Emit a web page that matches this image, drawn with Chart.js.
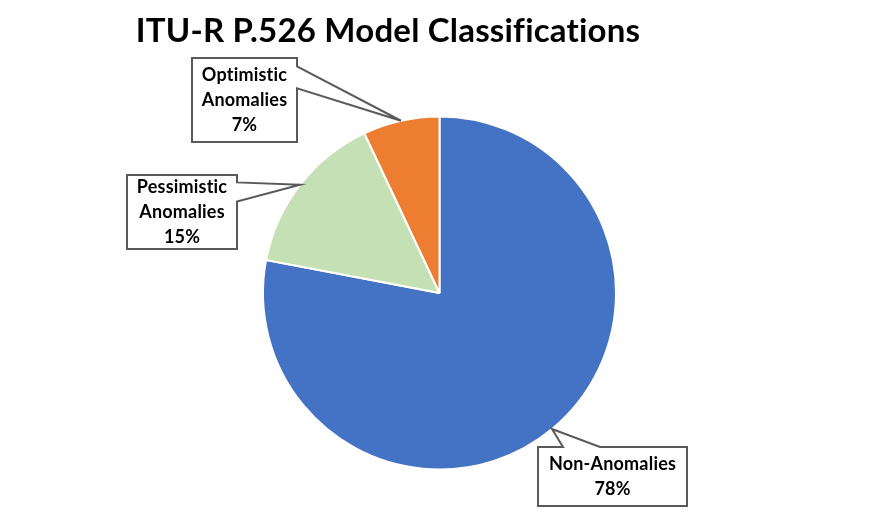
<!DOCTYPE html>
<html lang="en">
<head>
<meta charset="UTF-8">
<title>ITU-R P.526 Model Classifications</title>
<script src="https://cdn.jsdelivr.net/npm/chart.js"></script>
<style>
    body { margin: 0; background: #ffffff; }
    canvas { display: block; }
</style>
</head>
<body>
<canvas id="pieChart" width="883" height="525"></canvas>
<script>
const categories = ['Non-Anomalies', 'Pessimistic Anomalies', 'Optimistic Anomalies'];
const shares = [78, 15, 7];
const sliceColors = ['#4472C4', '#C5E0B4', '#ED7D31'];

// callout boxes (x, y, w, h) and which side the pointer leaves from
const callouts = [
    { box: [538, 447, 149, 59], side: 'top', lines: ['Non-Anomalies'] },
    { box: [127, 175, 110, 74], side: 'right', lines: ['Pessimistic', 'Anomalies'] },
    { box: [192, 58, 105, 84], side: 'right', lines: ['Optimistic', 'Anomalies'] }
];

const FONT = 'Lato, "Open Sans", sans-serif';

const calloutPlugin = {
    id: 'callouts',
    afterDraw(chart) {
        const ctx = chart.ctx;
        const arcs = chart.getDatasetMeta(0).data;
        ctx.save();
        // no "ti" ligatures, Calibri-like look
        ctx.letterSpacing = '0.2px';

        // title
        ctx.fillStyle = '#000';
        ctx.font = 'bold 33px ' + FONT;
        ctx.textAlign = 'center';
        ctx.textBaseline = 'alphabetic';
        ctx.fillText('ITU-R P.526 Model Classifications', 388, 42);

        arcs.forEach((arc, i) => {
            const c = callouts[i];
            const mid = (arc.startAngle + arc.endAngle) / 2;
            const tx = arc.x + Math.cos(mid) * arc.outerRadius;
            const ty = arc.y + Math.sin(mid) * arc.outerRadius;
            const [x, y, w, h] = c.box;

            ctx.beginPath();
            ctx.moveTo(x, y);
            if (c.side === 'top') {
                ctx.lineTo(x + 25, y);
                ctx.lineTo(tx, ty);
                ctx.lineTo(x + 62, y);
                ctx.lineTo(x + w, y);
                ctx.lineTo(x + w, y + h);
            } else {
                ctx.lineTo(x + w, y);
                ctx.lineTo(x + w, y + h * 0.1);
                ctx.lineTo(tx, ty);
                ctx.lineTo(x + w, y + h * 0.36);
                ctx.lineTo(x + w, y + h);
            }
            ctx.lineTo(x, y + h);
            ctx.closePath();
            ctx.fillStyle = '#ffffff';
            ctx.fill();
            ctx.strokeStyle = '#595959';
            ctx.lineWidth = 2;
            ctx.stroke();

            const lines = c.lines.concat([shares[i] + '%']);
            const lh = 25;
            const cx = x + w / 2;
            const firstBase = y + h / 2 - (lines.length - 1) * lh / 2 + 6;
            ctx.fillStyle = '#000';
            ctx.font = 'bold 18px ' + FONT;
            ctx.textAlign = 'center';
            lines.forEach((t, k) => ctx.fillText(t, cx, firstBase + k * lh));
        });
        ctx.restore();
    }
};

new Chart(document.getElementById('pieChart'), {
    type: 'pie',
    data: {
        labels: categories,
        datasets: [{
            data: shares,
            backgroundColor: sliceColors,
            borderColor: '#ffffff',
            borderWidth: 2
        }]
    },
    options: {
        responsive: false,
        animation: false,
        layout: { padding: { left: 262, right: 266, top: 115, bottom: 54 } },
        plugins: {
            legend: { display: false },
            title: { display: false },
            tooltip: { enabled: false }
        }
    },
    plugins: [calloutPlugin]
});
</script>
</body>
</html>
